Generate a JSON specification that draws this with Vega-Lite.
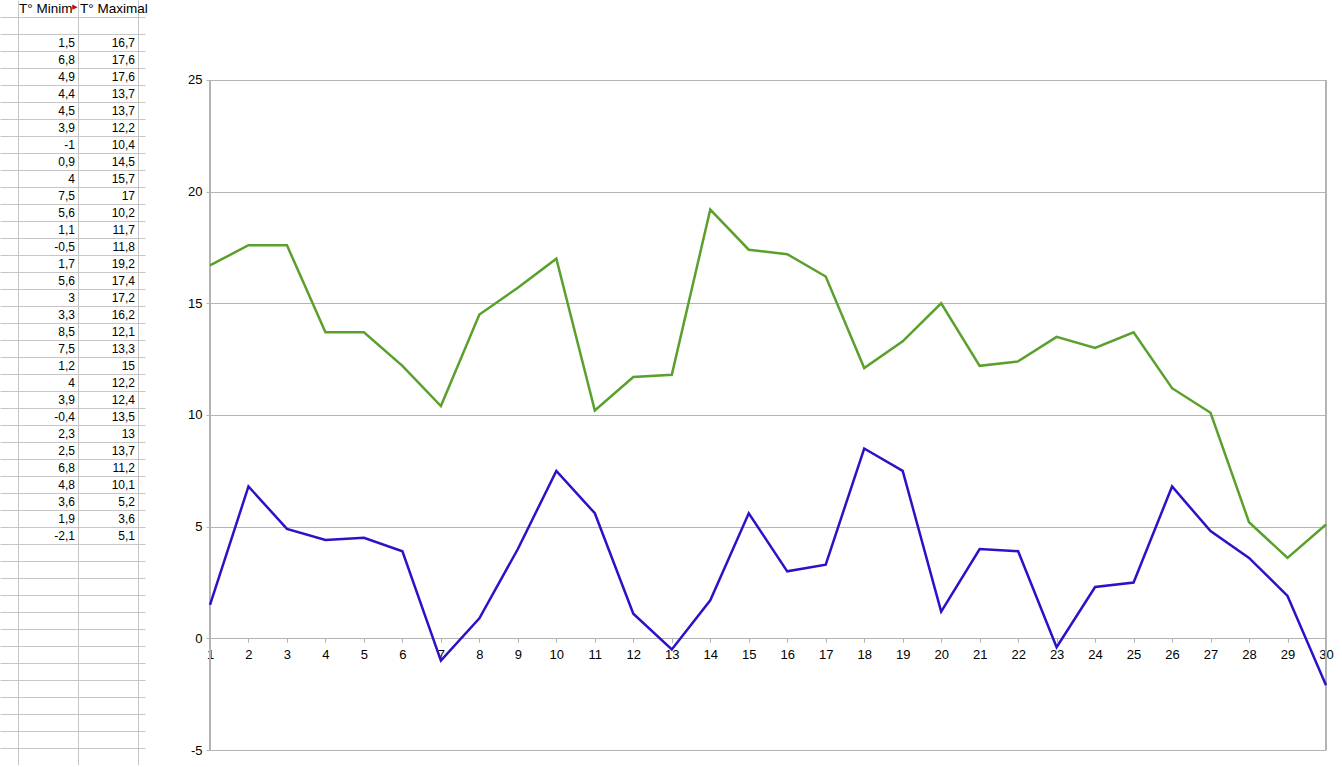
{
  "$schema": "https://vega.github.io/schema/vega-lite/v6.json",
  "padding": 0,
  "spacing": 65,
  "bounds": "flush",
  "background": "white",
  "config": {
    "view": {"stroke": null},
    "font": "Liberation Sans",
    "locale": {"number": {"decimal": ",", "thousands": " ", "grouping": [3], "currency": ["", " €"], "minus": "-"}},
    "axis": {"labelFont": "Liberation Sans", "labelFontSize": 13, "labelColor": "#000000", "tickCount": 200}
  },
  "datasets": {
    "temps": [
      {"day": 1, "Tmin": 1.5, "Tmax": 16.7},
      {"day": 2, "Tmin": 6.8, "Tmax": 17.6},
      {"day": 3, "Tmin": 4.9, "Tmax": 17.6},
      {"day": 4, "Tmin": 4.4, "Tmax": 13.7},
      {"day": 5, "Tmin": 4.5, "Tmax": 13.7},
      {"day": 6, "Tmin": 3.9, "Tmax": 12.2},
      {"day": 7, "Tmin": -1, "Tmax": 10.4},
      {"day": 8, "Tmin": 0.9, "Tmax": 14.5},
      {"day": 9, "Tmin": 4, "Tmax": 15.7},
      {"day": 10, "Tmin": 7.5, "Tmax": 17},
      {"day": 11, "Tmin": 5.6, "Tmax": 10.2},
      {"day": 12, "Tmin": 1.1, "Tmax": 11.7},
      {"day": 13, "Tmin": -0.5, "Tmax": 11.8},
      {"day": 14, "Tmin": 1.7, "Tmax": 19.2},
      {"day": 15, "Tmin": 5.6, "Tmax": 17.4},
      {"day": 16, "Tmin": 3, "Tmax": 17.2},
      {"day": 17, "Tmin": 3.3, "Tmax": 16.2},
      {"day": 18, "Tmin": 8.5, "Tmax": 12.1},
      {"day": 19, "Tmin": 7.5, "Tmax": 13.3},
      {"day": 20, "Tmin": 1.2, "Tmax": 15},
      {"day": 21, "Tmin": 4, "Tmax": 12.2},
      {"day": 22, "Tmin": 3.9, "Tmax": 12.4},
      {"day": 23, "Tmin": -0.4, "Tmax": 13.5},
      {"day": 24, "Tmin": 2.3, "Tmax": 13},
      {"day": 25, "Tmin": 2.5, "Tmax": 13.7},
      {"day": 26, "Tmin": 6.8, "Tmax": 11.2},
      {"day": 27, "Tmin": 4.8, "Tmax": 10.1},
      {"day": 28, "Tmin": 3.6, "Tmax": 5.2},
      {"day": 29, "Tmin": 1.9, "Tmax": 3.6},
      {"day": 30, "Tmin": -2.1, "Tmax": 5.1}
    ],
    "headers": [
      {"col": 1, "row": -1, "label": "T° Minimale", "flag": "▶"},
      {"col": 2, "row": -1, "label": "T° Maximale", "flag": ""}
    ]
  },
  "hconcat": [
    {
      "width": 145,
      "height": 765,
      "layer": [
        {
          "data": {"name": "temps"},
          "mark": {"type": "text", "align": "right", "baseline": "middle", "dx": 27, "fontSize": 12, "font": "Liberation Sans", "color": "#000000"},
          "encoding": {
            "x": {
              "datum": 1, "type": "quantitative",
              "scale": {"domain": [0.2, 2.6167], "nice": false, "zero": false},
              "axis": {"values": [0.5, 1.5, 2.5], "tickCount": 200, "grid": true, "gridColor": "#c6c6c6", "gridWidth": 1, "labels": false, "ticks": false, "domain": false, "title": null}
            },
            "y": {
              "field": "day", "type": "quantitative",
              "scale": {"domain": [-1.5, 43.5], "nice": false, "zero": false, "reverse": true},
              "axis": {
                "values": [-0.5, 0.5, 1.5, 2.5, 3.5, 4.5, 5.5, 6.5, 7.5, 8.5, 9.5, 10.5, 11.5, 12.5, 13.5, 14.5, 15.5, 16.5, 17.5, 18.5, 19.5, 20.5, 21.5, 22.5, 23.5, 24.5, 25.5, 26.5, 27.5, 28.5, 29.5, 30.5, 31.5, 32.5, 33.5, 34.5, 35.5, 36.5, 37.5, 38.5, 39.5, 40.5, 41.5, 42.5, 43.5],
                "tickCount": 200, "grid": true, "gridColor": "#c6c6c6", "gridWidth": 1,
                "labels": false, "ticks": false, "domain": false, "title": null
              }
            },
            "text": {"field": "Tmin", "type": "quantitative", "format": ".1~f"}
          }
        },
        {
          "data": {"name": "temps"},
          "mark": {"type": "text", "align": "right", "baseline": "middle", "dx": 27, "fontSize": 12, "font": "Liberation Sans", "color": "#000000"},
          "encoding": {
            "x": {"datum": 2, "type": "quantitative"},
            "y": {"field": "day", "type": "quantitative"},
            "text": {"field": "Tmax", "type": "quantitative", "format": ".1~f"}
          }
        },
        {
          "data": {"name": "headers"},
          "transform": [{"filter": "datum.col == 1"}],
          "mark": {"type": "text", "align": "left", "baseline": "middle", "dx": -29, "fontSize": 13.5, "font": "Liberation Sans", "color": "#000000", "limit": 60, "ellipsis": " "},
          "encoding": {
            "x": {"field": "col", "type": "quantitative"},
            "y": {"field": "row", "type": "quantitative"},
            "text": {"field": "label", "type": "nominal"}
          }
        },
        {
          "data": {"name": "headers"},
          "transform": [{"filter": "datum.col == 2"}],
          "mark": {"type": "text", "align": "left", "baseline": "middle", "dx": -28, "fontSize": 13.5, "font": "Liberation Sans", "color": "#000000", "limit": 74, "ellipsis": " "},
          "encoding": {
            "x": {"field": "col", "type": "quantitative"},
            "y": {"field": "row", "type": "quantitative"},
            "text": {"field": "label", "type": "nominal"}
          }
        },
        {
          "data": {"name": "headers"},
          "mark": {"type": "text", "align": "center", "baseline": "middle", "dx": 27, "dy": -2, "fontSize": 7, "font": "DejaVu Sans", "color": "#cc0000"},
          "encoding": {
            "x": {"field": "col", "type": "quantitative"},
            "y": {"field": "row", "type": "quantitative"},
            "text": {"field": "flag", "type": "nominal"}
          }
        }
      ]
    },
    {
      "width": 1116,
      "height": 750,
      "data": {"name": "temps"},
      "layer": [
        {
          "mark": {"type": "rule", "color": "#b3b3b3", "strokeWidth": 1},
          "encoding": {
            "x": {"datum": 1, "type": "quantitative"},
            "y": {"datum": -5, "type": "quantitative"},
            "y2": {"datum": 25}
          }
        },
        {
          "mark": {"type": "rule", "color": "#b3b3b3", "strokeWidth": 1},
          "encoding": {
            "x": {"datum": 30, "type": "quantitative"},
            "y": {"datum": -5, "type": "quantitative"},
            "y2": {"datum": 25}
          }
        },
        {
          "transform": [{"fold": ["Tmin", "Tmax"], "as": ["series", "value"]}],
          "mark": {"type": "line", "strokeWidth": 2.5},
          "encoding": {
            "x": {
              "field": "day", "type": "quantitative",
              "scale": {"domain": [1, 30], "nice": false, "zero": false},
              "axis": {
                "values": [1, 2, 3, 4, 5, 6, 7, 8, 9, 10, 11, 12, 13, 14, 15, 16, 17, 18, 19, 20, 21, 22, 23, 24, 25, 26, 27, 28, 29, 30],
                "tickCount": 200, "format": "d", "offset": -111.67, "domain": false, "grid": false, "labelOverlap": false,
                "tickSize": 4, "tickColor": "#b3b3b3", "labelPadding": 6, "labelFlush": false, "title": null
              }
            },
            "y": {
              "field": "value", "type": "quantitative",
              "scale": {"domain": [-5, 28.582], "nice": false, "zero": false},
              "axis": {
                "values": [-5, 0, 5, 10, 15, 20, 25],
                "tickCount": 200, "format": "d", "grid": true, "gridColor": "#b3b3b3", "domain": false, "labelOverlap": false,
                "tickSize": 4, "tickColor": "#b3b3b3", "labelPadding": 4, "title": null
              }
            },
            "color": {
              "field": "series", "type": "nominal",
              "scale": {"domain": ["Tmin", "Tmax"], "range": ["#2b12c8", "#5aa02c"]},
              "legend": null
            }
          }
        }
      ]
    }
  ]
}
